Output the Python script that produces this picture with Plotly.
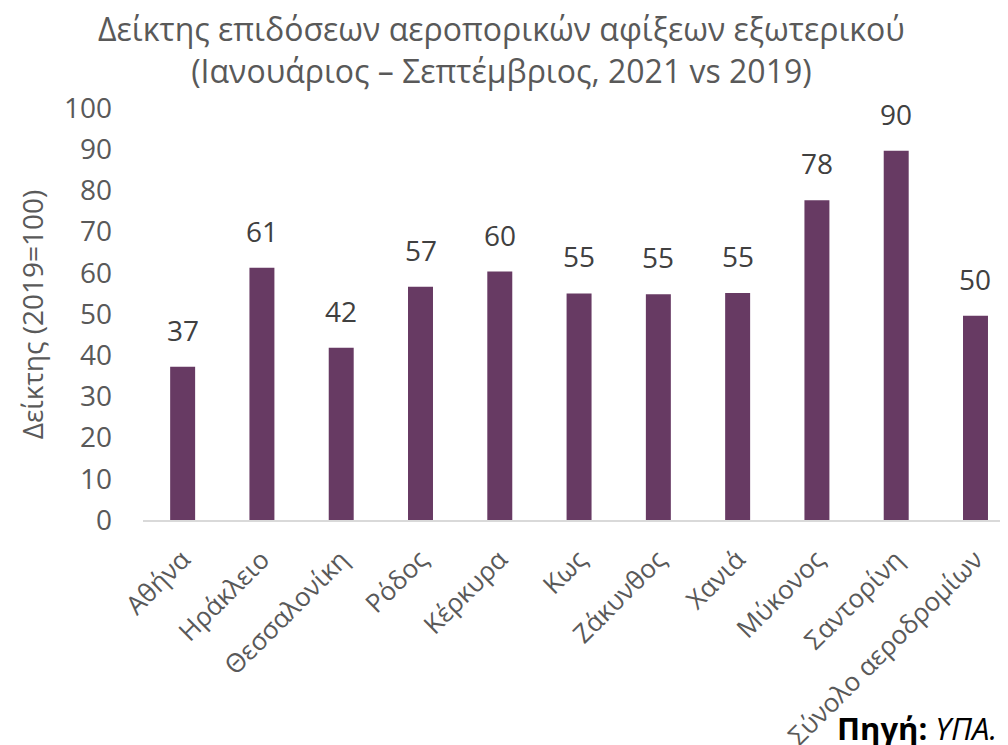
import plotly.graph_objects as go

# Index of foreign air arrivals, Jan-Sep 2021 vs 2019 (2019=100)
airports = [
    "Αθήνα", "Ηράκλειο", "Θεσσαλονίκη", "Ρόδος", "Κέρκυρα", "Κως",
    "Ζάκυνθος", "Χανιά", "Μύκονος", "Σαντορίνη", "Σύνολο αεροδρομίων",
]
index_values = [37.2, 61.2, 41.8, 56.6, 60.3, 55.0, 54.8, 55.1, 77.6, 89.6, 49.6]
y_ticks = list(range(0, 101, 10))

BAR_COLOR = "#673A63"
GREY = "#595959"
FONT = "Open Sans"

fig = go.Figure()
fig.add_trace(go.Bar(
    x=airports,
    y=index_values,
    width=0.315,
    marker=dict(color=BAR_COLOR, line=dict(width=0)),
    hoverinfo="x+y",
))

# value labels above bars
for name, val in zip(airports, index_values):
    fig.add_annotation(
        x=name, y=val, text=f"{round(val)}",
        showarrow=False, yanchor="middle", yshift=37,
        font=dict(family=FONT, size=28, color="#404040"),
    )

# title as annotation (page body has an 8px margin, figure is sized to fit)
fig.add_annotation(
    xref="paper", yref="paper", x=0.4145, y=1.143,
    text="Δείκτης επιδόσεων αεροπορικών αφίξεων εξωτερικού<br>(Ιανουάριος – Σεπτέμβριος, 2021 vs 2019)",
    showarrow=False, xanchor="center", yanchor="middle",
    font=dict(family=FONT, size=32, color=GREY),
)

fig.add_annotation(
    xref="paper", yref="paper", x=-0.128, y=0.5,
    text="Δείκτης (2019=100)", textangle=-90, showarrow=False,
    xanchor="center", yanchor="middle",
    font=dict(family=FONT, size=28, color=GREY),
)

fig.add_annotation(
    xref="paper", yref="paper", x=0.99, y=-0.505,
    text="<b>Πηγή:</b> <i>ΥΠΑ.</i>", showarrow=False,
    xanchor="right", yanchor="middle",
    font=dict(family=FONT, size=31, color="#000000"),
)

fig.update_layout(
    width=1000, height=737,
    paper_bgcolor="white", plot_bgcolor="white",
    margin=dict(l=135, r=0, t=100, b=225),
    showlegend=False,
    xaxis=dict(
        range=[-0.5, 10.41],
        tickangle=-45,
        tickfont=dict(family=FONT, size=26, color=GREY),
        showgrid=False, zeroline=False,
        showline=True, linecolor="#D9D9D9", linewidth=2,
        ticks="", ticklabelstandoff=12, automargin=False,
    ),
    yaxis=dict(
        range=[0, 100],
        tickvals=y_ticks,
        tickfont=dict(family=FONT, size=28, color=GREY),
        showgrid=False, zeroline=False, showline=False,
        ticks="", ticklabelstandoff=30, automargin=False,
    ),
)

fig.write_html("out.html")
